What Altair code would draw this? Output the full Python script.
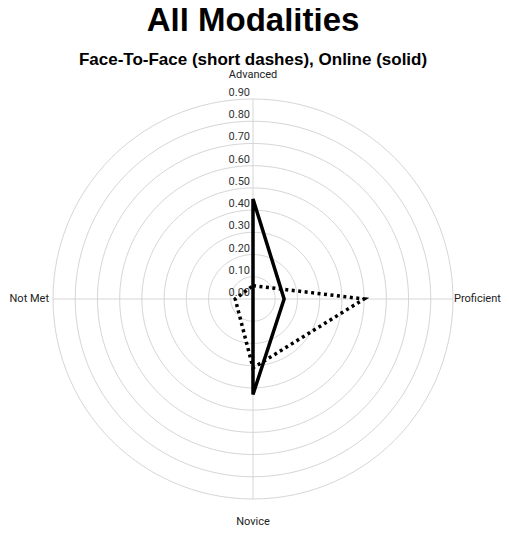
import altair as alt
import pandas as pd

# ---- data ----
categories = ["Advanced", "Proficient", "Novice", "Not Met"]
face_to_face = [0.06, 0.50, 0.31, 0.08]
online = [0.45, 0.14, 0.43, 0.0]
ring_values = [0.1, 0.2, 0.3, 0.4, 0.5, 0.6, 0.7, 0.8, 0.9]
tick_values = [0.0, 0.1, 0.2, 0.3, 0.4, 0.5, 0.6, 0.7, 0.8, 0.9]
tick_labels = ["0.00", "0.10", "0.20", "0.30", "0.40", "0.50", "0.60", "0.70", "0.80", "0.90"]
R_MAX = 0.9

rows = []
for i, c in enumerate(categories):
    rows.append({"category": c, "idx": i, "series": "Face-To-Face", "value": face_to_face[i]})
    rows.append({"category": c, "idx": i, "series": "Online", "value": online[i]})
series_df = pd.DataFrame(rows)
cat_df = pd.DataFrame({"category": categories, "idx": list(range(len(categories)))})
ring_df = pd.DataFrame({"ring": ring_values})
tick_df = pd.DataFrame({"value": tick_values, "label": tick_labels})

sx = alt.Scale(domain=[-R_MAX, R_MAX], nice=False, zero=False)
sy = alt.Scale(domain=[-R_MAX, R_MAX], nice=False, zero=False)
GRID = "#d6d6d6"

rings = alt.Chart(ring_df).transform_calculate(
    deg="sequence(0, 363, 3)"
).transform_flatten(["deg"]).transform_calculate(
    x="datum.ring * sin(datum.deg * PI / 180)",
    y="datum.ring * cos(datum.deg * PI / 180)",
).mark_line(color=GRID, strokeWidth=1).encode(
    x=alt.X("x:Q", scale=sx, axis=None),
    y=alt.Y("y:Q", scale=sy, axis=None),
    detail="ring:N",
    order="deg:Q",
)

spokes = alt.Chart(cat_df).transform_calculate(
    x0="0", y0="0",
    xe=f"{R_MAX} * sin(datum.idx * PI / 2)",
    ye=f"{R_MAX} * cos(datum.idx * PI / 2)",
).mark_rule(color=GRID, strokeWidth=1).encode(
    x=alt.X("x0:Q", scale=sx, axis=None),
    y=alt.Y("y0:Q", scale=sy, axis=None),
    x2="xe:Q",
    y2="ye:Q",
)

ticks = alt.Chart(tick_df).transform_calculate(x0="0").mark_text(
    align="right", baseline="bottom", dx=-3, dy=-1, fontSize=11, font="Roboto", color="#333333"
).encode(
    x=alt.X("x0:Q", scale=sx, axis=None),
    y=alt.Y("value:Q", scale=sy, axis=None),
    text="label:N",
)

def cat_label(name, align, baseline, dx, dy):
    return alt.Chart(cat_df).transform_filter(
        alt.datum.category == name
    ).transform_calculate(
        x=f"{R_MAX} * sin(datum.idx * PI / 2)",
        y=f"{R_MAX} * cos(datum.idx * PI / 2)",
    ).mark_text(
        align=align, baseline=baseline, dx=dx, dy=dy, fontSize=11, font="Roboto", color="#222222"
    ).encode(
        x=alt.X("x:Q", scale=sx, axis=None),
        y=alt.Y("y:Q", scale=sy, axis=None),
        text="category:N",
    )

labels = (
    cat_label("Advanced", "center", "bottom", 0, -19)
    + cat_label("Novice", "center", "top", 0, 17)
    + cat_label("Proficient", "left", "middle", 1, 0)
    + cat_label("Not Met", "right", "middle", -4, 0)
)

def series_line(name, dash):
    props = dict(color="black", strokeWidth=3.5, interpolate="linear-closed", strokeJoin="miter")
    if dash:
        props["strokeDash"] = dash
        props["strokeCap"] = "butt"
    return alt.Chart(series_df).transform_filter(
        alt.datum.series == name
    ).transform_calculate(
        x="datum.value * sin(datum.idx * PI / 2)",
        y="datum.value * cos(datum.idx * PI / 2)",
    ).mark_line(**props).encode(
        x=alt.X("x:Q", scale=sx, axis=None),
        y=alt.Y("y:Q", scale=sy, axis=None),
        order="idx:Q",
    )

chart = alt.layer(
    rings, spokes, ticks, labels,
    series_line("Face-To-Face", [3, 3.5]),
    series_line("Online", None),
).properties(
    width=400,
    height=400,
    title=alt.Title(
        "All Modalities",
        subtitle="Face-To-Face (short dashes), Online (solid)",
        font="Liberation Sans", fontSize=33, fontWeight="bold", color="black",
        subtitleFont="Liberation Sans", subtitleFontSize=17, subtitleFontWeight="bold",
        subtitleColor="black", subtitlePadding=14, anchor="middle", offset=1,
    ),
    autosize=alt.AutoSizeParams(type="none"),
    padding={"left": 45, "top": 91, "right": 48, "bottom": 28},
).configure_view(stroke=None)

chart.save("out.html", embed_options={"renderer": "svg", "actions": False})
